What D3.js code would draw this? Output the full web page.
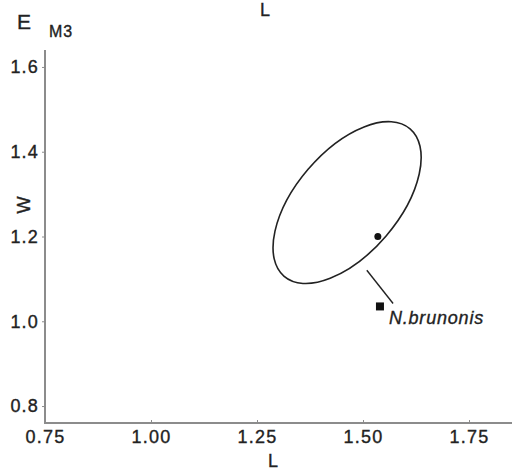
<!DOCTYPE html>
<html>
<head>
<meta charset="utf-8">
<script src="https://cdn.jsdelivr.net/npm/d3@7"></script>
<style>
  body { margin: 0; background: #fff; }
  svg { display: block; font-family: "Liberation Sans", Arial, sans-serif; }
  svg text { stroke: #222; stroke-width: 0.35px; }
</style>
</head>
<body>
<svg id="chart" width="512" height="470"></svg>
<script>
// axis ticks
const xTicks = [0.75, 1.0, 1.25, 1.5, 1.75];
const yTicks = [0.8, 1.0, 1.2, 1.4, 1.6];

// group mean (dot) and the N. brunonis specimen (square)
const meanPoint = { L: 1.535, W: 1.2 };
const specimen = { L: 1.54, W: 1.035, name: "N.brunonis" };

// ellipse: ends of the major axis and minor semi-axis, in data units
const ellipseMajor = [[1.314, 1.106], [1.611, 1.454]];
const ellipseMinor = 0.121;

// leader line from ellipse to label
const leader = [[1.509, 1.1205], [1.571, 1.042]];

const svg = d3.select("#chart");
const margin = { left: 45, right: 0, top: 50, bottom: 47 };
const width = 512, height = 470;

const x = d3.scaleLinear()
  .domain([0.75, 1.85])
  .range([margin.left, margin.left + 1.1 * 424]);

const y = d3.scaleLinear()
  .domain([0.76, 1.64])
  .range([height - margin.bottom, margin.top]);

const axisColor = "#8c8c8c";

// x axis
const gx = svg.append("g")
  .attr("transform", `translate(0,${y(0.76)})`)
  .call(d3.axisBottom(x).tickValues(xTicks).tickFormat(d3.format(".2f")).tickSize(3).tickSizeOuter(0));
gx.select(".domain").attr("stroke", axisColor).attr("stroke-width", 2)
  .attr("d", `M${x(0.75) - 1},0H${width}`);
gx.selectAll(".tick line").attr("stroke", axisColor).attr("y2", -3);
gx.selectAll(".tick text")
  .attr("y", 7)
  .attr("dy", "0.71em")
  .attr("fill", "#222")
  .style("font-size", "18px")
  .style("letter-spacing", "1.2px");

// y axis
const gy = svg.append("g")
  .attr("transform", `translate(${x(0.75)},0)`)
  .call(d3.axisLeft(y).tickValues(yTicks).tickFormat(d3.format(".1f")).tickSize(3).tickSizeOuter(0));
gy.select(".domain").attr("stroke", axisColor).attr("stroke-width", 2)
  .attr("d", `M0,${margin.top}V${y(0.76) + 1}`);
gy.selectAll(".tick line").attr("stroke", axisColor);
gy.selectAll(".tick text")
  .attr("x", -6)
  .attr("fill", "#222")
  .style("font-size", "18px")
  .style("letter-spacing", "1.2px");

// axis titles
svg.append("text")
  .attr("x", 273).attr("y", 467)
  .attr("text-anchor", "middle")
  .style("font-size", "18px").attr("fill", "#222")
  .text("L");

svg.append("text")
  .attr("transform", "translate(30,205) rotate(-90)")
  .attr("text-anchor", "middle")
  .style("font-size", "18px").attr("fill", "#222")
  .text("W");

// panel labels
svg.append("text").attr("x", 265).attr("y", 16)
  .attr("text-anchor", "middle")
  .style("font-size", "18px").attr("fill", "#222").text("L");
svg.append("text").attr("x", 17).attr("y", 29)
  .style("font-size", "21px").attr("fill", "#222").text("E");
svg.append("text").attr("x", 49).attr("y", 37)
  .style("font-size", "16px").style("letter-spacing", "1px").attr("fill", "#222").text("M3");

// ellipse
const p0 = [x(ellipseMajor[0][0]), y(ellipseMajor[0][1])];
const p1 = [x(ellipseMajor[1][0]), y(ellipseMajor[1][1])];
const cx = (p0[0] + p1[0]) / 2, cy = (p0[1] + p1[1]) / 2;
const rx = Math.hypot(p1[0] - p0[0], p1[1] - p0[1]) / 2;
const ry = Math.abs(x(ellipseMinor) - x(0));
const angle = Math.atan2(p1[1] - p0[1], p1[0] - p0[0]) * 180 / Math.PI;

svg.append("ellipse")
  .attr("cx", cx).attr("cy", cy)
  .attr("rx", rx).attr("ry", ry)
  .attr("transform", `rotate(${angle},${cx},${cy})`)
  .attr("fill", "none")
  .attr("stroke", "#222")
  .attr("stroke-width", 1.6);

// mean dot
svg.append("circle")
  .attr("cx", x(meanPoint.L)).attr("cy", y(meanPoint.W))
  .attr("r", 3.5).attr("fill", "#111");

// leader line
svg.append("line")
  .attr("x1", x(leader[0][0])).attr("y1", y(leader[0][1]))
  .attr("x2", x(leader[1][0])).attr("y2", y(leader[1][1]))
  .attr("stroke", "#222").attr("stroke-width", 1.4);

// specimen square + label
svg.append("rect")
  .attr("x", x(specimen.L) - 4).attr("y", y(specimen.W) - 4)
  .attr("width", 8).attr("height", 8)
  .attr("fill", "#111");

svg.append("text")
  .attr("x", x(specimen.L) + 9).attr("y", y(specimen.W) + 18)
  .style("font-size", "18px").style("font-style", "italic")
  .style("letter-spacing", "0.8px")
  .attr("fill", "#222")
  .text(specimen.name);
</script>
</body>
</html>
